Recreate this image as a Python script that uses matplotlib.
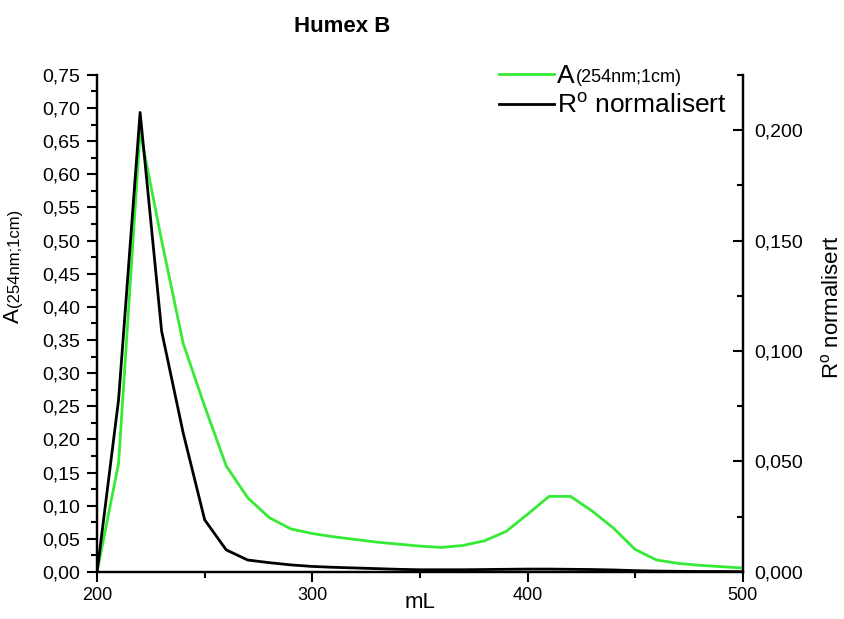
import matplotlib
matplotlib.use("Agg")
import matplotlib.pyplot as plt
from matplotlib.ticker import FuncFormatter, MultipleLocator

plt.rcParams["font.family"] = ["Liberation Sans", "DejaVu Sans"]
plt.rcParams["mathtext.fontset"] = "custom"
plt.rcParams["mathtext.rm"] = "Liberation Sans"

# elution volume (mL)
ml = [200, 210, 220, 230, 240, 250, 260, 270, 280, 290, 300, 310, 320, 330,
      340, 350, 360, 370, 380, 390, 400, 410, 420, 430, 440, 450, 460, 470,
      480, 490, 500]

# absorbance at 254 nm, 1 cm path
absorb = [0.000, 0.164, 0.665, 0.500, 0.345, 0.250, 0.160, 0.112, 0.082,
          0.065, 0.058, 0.053, 0.049, 0.045, 0.042, 0.039, 0.037, 0.040,
          0.047, 0.061, 0.087, 0.114, 0.114, 0.092, 0.066, 0.034, 0.018,
          0.013, 0.010, 0.008, 0.006]

# normalised R-degree
r_norm = [0.0000, 0.0780, 0.2080, 0.1090, 0.0630, 0.0236, 0.0100, 0.0054,
          0.0042, 0.0032, 0.0025, 0.0021, 0.0018, 0.0015, 0.0012, 0.0010,
          0.0010, 0.0010, 0.0011, 0.0012, 0.0013, 0.0013, 0.0012, 0.0011,
          0.0009, 0.0006, 0.0004, 0.0003, 0.0002, 0.0002, 0.0001]

GREEN = "#36ea36"
SUFFIX = "(254nm;1cm)"
R_LABEL = r"R$^{\mathregular{o}}$ normalisert"
W, H = 844, 619

fig = plt.figure(figsize=(W / 100, H / 100), dpi=100)
ax = fig.add_axes([0.115, 0.076, 0.765, 0.803])
ax2 = ax.twinx()

ax.plot(ml, absorb, color=GREEN, lw=2.0)
ax2.plot(ml, r_norm, color="black", lw=2.0)

ax.set_xlim(200, 500)
ax.set_ylim(0, 0.75)
ax2.set_ylim(0, 0.225)

ax.xaxis.set_major_locator(MultipleLocator(100))
ax.xaxis.set_minor_locator(MultipleLocator(50))
ax.yaxis.set_major_locator(MultipleLocator(0.05))
ax.yaxis.set_minor_locator(MultipleLocator(0.025))
ax2.yaxis.set_major_locator(MultipleLocator(0.05))
ax2.yaxis.set_minor_locator(MultipleLocator(0.025))

ax.yaxis.set_major_formatter(
    FuncFormatter(lambda v, p: f"{v:.2f}".replace(".", ",")))
ax2.yaxis.set_major_formatter(
    FuncFormatter(lambda v, p: f"{v:.3f}".replace(".", ",")))

for a in (ax, ax2):
    a.spines["top"].set_visible(False)
    for s in a.spines.values():
        s.set_linewidth(1.6)

ax.tick_params(axis="both", which="major", direction="out", length=7,
               width=1.5, labelsize=14)
ax.tick_params(axis="y", which="major", pad=5)
ax.tick_params(axis="x", which="major", labelsize=13)
ax.tick_params(axis="both", which="minor", direction="out", length=4,
               width=1.5)
ax2.tick_params(axis="y", which="major", direction="in", length=7,
                width=1.5, labelsize=14, pad=8)
ax2.tick_params(axis="y", which="minor", direction="in", length=4,
                width=1.5)

# axis titles
fig.text(420 / W, 1 - 603 / H, "mL", fontsize=16, ha="center",
         va="center")
fig.text(832 / W, 1 - 307 / H, R_LABEL, fontsize=16, rotation=90,
         ha="center", va="center")
ylab = fig.text(3 / W, 1 - 323 / H, "A", fontsize=16, rotation=90,
                ha="left", va="bottom")

fig.text(342 / W, 1 - 26 / H, "Humex B", fontsize=16,
         fontweight="bold", ha="center", va="center")

h1 = plt.Line2D([], [], color=GREEN, lw=2.0)
h2 = plt.Line2D([], [], color="black", lw=2.0)
leg = ax2.legend([h1, h2], ["A", R_LABEL],
                 loc="upper left", bbox_to_anchor=(499 / W, 1 - 64 / H),
                 bbox_transform=fig.transFigure, frameon=False, fontsize=19,
                 handlelength=2.1, handletextpad=0.1, labelspacing=0.2,
                 borderpad=0, borderaxespad=0)

# smaller suffix set right after each "A"
fig.canvas.draw()
bb = leg.get_texts()[0].get_window_extent()
fig.text(bb.x1 + 1, bb.y0 + 2, SUFFIX, fontsize=13,
         transform=None, ha="left", va="bottom")
bb = ylab.get_window_extent()
fig.text(bb.x1 - 2, bb.y1 + 1, SUFFIX, fontsize=12, rotation=90,
         transform=None, ha="right", va="bottom")

fig.savefig("out.png", dpi=100)
